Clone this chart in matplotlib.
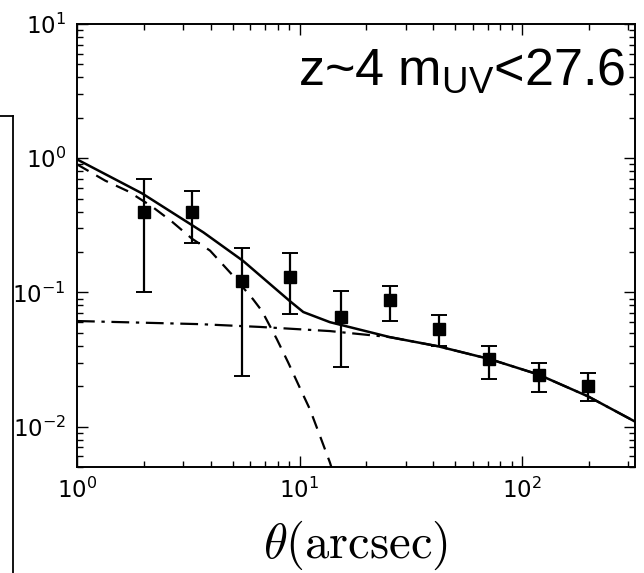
import matplotlib
matplotlib.use('Agg')
import matplotlib.pyplot as plt
from matplotlib.lines import Line2D

plt.rcParams['mathtext.fontset'] = 'custom'
plt.rcParams['mathtext.rm'] = 'Liberation Sans'
plt.rcParams['mathtext.it'] = 'Liberation Sans:italic'

# measured w(theta) with errors
theta_obs = [2.0, 3.3, 5.5, 9.1, 15.3, 25.5, 42.4, 71.1, 119, 198]
w_obs = [0.394, 0.394, 0.122, 0.131, 0.0655, 0.088, 0.0533, 0.0318, 0.0241, 0.020]
w_hi = [0.696, 0.566, 0.215, 0.198, 0.1026, 0.112, 0.068, 0.040, 0.030, 0.025]
w_lo = [0.101, 0.235, 0.024, 0.069, 0.0277, 0.061, 0.040, 0.0225, 0.018, 0.0154]

# total model
theta_tot = [1.0, 1.96, 3.7, 5.57, 9.06, 10.4, 13.7, 25.5, 41.9, 71.8, 118, 198, 322]
w_tot = [0.98, 0.547, 0.28, 0.172, 0.086, 0.0714, 0.060, 0.0464, 0.0397, 0.0318, 0.0245, 0.0168, 0.0109]

# one-halo term
theta_1h = [1.0, 1.34, 1.70, 2.17, 2.67, 3.29, 3.96, 5.03, 6.18, 6.78, 7.9, 8.88, 10.0, 11.15, 12.4, 13.7, 13.9]
w_1h = [0.90, 0.68, 0.566, 0.437, 0.337, 0.251, 0.205, 0.133, 0.089, 0.0727, 0.045, 0.0302, 0.0197, 0.0134, 0.0084, 0.0054, 0.005]

# two-halo term
theta_2h = [1.0, 3.57, 6.64, 13.7, 25.5, 41.9, 71.8, 118, 198, 322]
w_2h = [0.0612, 0.058, 0.0553, 0.0515, 0.0464, 0.0397, 0.0318, 0.0245, 0.0168, 0.0109]

fig = plt.figure(figsize=(6.44, 5.73), dpi=100)
ax = fig.add_axes([77 / 644, 1 - 467 / 573, 558 / 644, 443 / 573])

ax.plot(theta_tot, w_tot, 'k-', lw=1.8)
ax.plot(theta_1h, w_1h, 'k--', lw=1.6, dashes=(6, 4))
ax.plot(theta_2h, w_2h, 'k-.', lw=1.6, dashes=(8, 3, 1.5, 3))

yerr = [[w - l for w, l in zip(w_obs, w_lo)], [h - w for w, h in zip(w_obs, w_hi)]]
ax.errorbar(theta_obs, w_obs, yerr=yerr, fmt='s', color='k', ms=8.5,
            elinewidth=1.6, capsize=6, capthick=1.4)

ax.set_xscale('log')
ax.set_yscale('log')
ax.set_xlim(1, 322)
ax.set_ylim(0.005, 10)

ax.tick_params(which='both', direction='in', top=True, right=True, labelsize=16.5, width=1)
ax.tick_params(which='major', length=8, pad=8)
ax.tick_params(which='minor', length=4)
for lab in ax.get_xticklabels() + ax.get_yticklabels():
    lab.set_math_fontfamily('dejavusans')
for s in ax.spines.values():
    s.set_linewidth(1.4)

ax.set_xlabel(r'$\theta(\rm{arcsec})$', fontsize=35, math_fontfamily='cm', labelpad=11)

ax.text(0.983, 0.862, r'z~4 m$_{\rm UV}$<27.6', transform=ax.transAxes,
        ha='right', va='baseline', fontsize=37.5, family='Liberation Sans')

# border of the neighbouring panel
fig.add_artist(Line2D([13 / 644, 13 / 644], [0, 1 - 116 / 573], color='k', lw=1.3))
fig.add_artist(Line2D([0, 13 / 644], [1 - 116 / 573, 1 - 116 / 573], color='k', lw=1.3))

fig.savefig('out.png', dpi=100)
